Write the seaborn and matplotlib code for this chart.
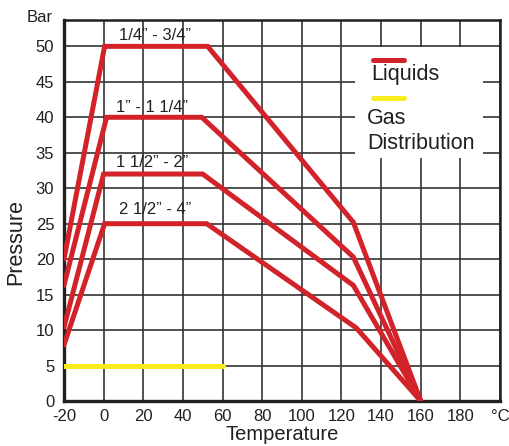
import pandas as pd
import matplotlib
matplotlib.use("Agg")
import matplotlib.pyplot as plt
import seaborn as sns
from matplotlib.patches import Rectangle
from matplotlib.lines import Line2D

# pipe size ranges and their pressure/temperature curves
sizes = ["1/4\u201d - 3/4\u201d", "1\u201d - 1 1/4\u201d", "1 1/2\u201d - 2\u201d", "2 1/2\u201d - 4\u201d"]
temps = {
    sizes[0]: [-20, 0.5, 52.5, 126, 160],
    sizes[1]: [-20, 1.5, 49.5, 126, 160],
    sizes[2]: [-20, 0, 50, 126, 160],
    sizes[3]: [-20, 0.5, 52, 127.5, 160],
}
pressures = {
    sizes[0]: [20, 50, 50, 25.2, 0],
    sizes[1]: [16.3, 40, 40, 20.3, 0],
    sizes[2]: [10.4, 32, 32, 16.3, 0],
    sizes[3]: [7.9, 25, 25, 10.3, 0],
}
label_pos = {sizes[0]: (26, 51.5), sizes[1]: (24.5, 41.4), sizes[2]: (24.5, 33.6), sizes[3]: (26, 27.0)}

gas_temp = [-20, 60]
gas_pres = [5, 5]

xticks = list(range(-20, 201, 20))
xlabels = [str(t) for t in xticks[:-1]] + ["\u00b0C"]
yticks = list(range(0, 51, 5))

red = "#d2232a"
yellow = "#f7ec1e"
ink = "#231f20"

rows = []
for s in sizes:
    for t, p in zip(temps[s], pressures[s]):
        rows.append({"size": s, "temp": t, "pressure": p})
df = pd.DataFrame(rows)
gas = pd.DataFrame({"temp": gas_temp, "pressure": gas_pres})

sns.set_style("white")
plt.rcParams["font.family"] = ["Liberation Sans", "DejaVu Sans"]

fig = plt.figure(figsize=(5.09, 4.46), dpi=100)
ax = fig.add_axes([0.1257, 0.1009, 0.8566, 0.854])

sns.lineplot(data=df, x="temp", y="pressure", hue="size", palette=[red] * 4,
             sort=False, estimator=None, legend=False, linewidth=3.6, ax=ax,
             zorder=3, solid_joinstyle="miter")
sns.lineplot(data=gas, x="temp", y="pressure", color=yellow, linewidth=3.6,
             estimator=None, legend=False, ax=ax, zorder=3)

for s in sizes:
    ax.text(label_pos[s][0], label_pos[s][1], s, ha="center", va="center",
            fontsize=12, color=ink)

ax.set_xlim(-20, 200)
ax.set_ylim(0, 53.7)
ax.set_xticks(xticks)
ax.set_xticklabels(xlabels)
ax.set_yticks(yticks)
ax.tick_params(axis="both", labelsize=12, length=3, width=1, colors=ink,
               direction="out", pad=4)
ax.tick_params(axis="x", pad=3)
ax.set_axisbelow(True)
ax.grid(True, color="#333333", linewidth=1.2)
for side in ["left", "bottom"]:
    ax.spines[side].set_linewidth(2.4)
for side in ["top", "right"]:
    ax.spines[side].set_linewidth(1.8)
for sp in ax.spines.values():
    sp.set_color(ink)

ax.set_xlabel("Temperature", fontsize=14.5, color=ink)
ax.set_ylabel("Pressure", fontsize=15.5, color=ink)
ax.xaxis.set_label_coords(0.5, -0.063)
ax.yaxis.set_label_coords(-0.086, 0.417)
fig.text(27 / 509, 1 - 17 / 446, "Bar", fontsize=12, ha="left", va="center", color=ink)

# legend box drawn over the grid
ax.add_patch(Rectangle((0.667, 0.638), 0.294, 0.291, transform=ax.transAxes,
                       facecolor="white", edgecolor="none", zorder=1))
ax.add_line(Line2D([0.708, 0.779], [0.895, 0.895], transform=ax.transAxes,
                   color=red, linewidth=3.6, zorder=2))
ax.text(0.704, 0.856, "Liquids", transform=ax.transAxes, fontsize=15.5,
        ha="left", va="center", color=ink, zorder=2)
ax.add_line(Line2D([0.708, 0.779], [0.795, 0.795], transform=ax.transAxes,
                   color=yellow, linewidth=3.6, zorder=2))
ax.text(0.695, 0.743, "Gas", transform=ax.transAxes, fontsize=15.5,
        ha="left", va="center", color=ink, zorder=2)
ax.text(0.695, 0.675, "Distribution", transform=ax.transAxes, fontsize=15.5,
        ha="left", va="center", color=ink, zorder=2)

fig.savefig("out.png", dpi=100)
plt.close(fig)
